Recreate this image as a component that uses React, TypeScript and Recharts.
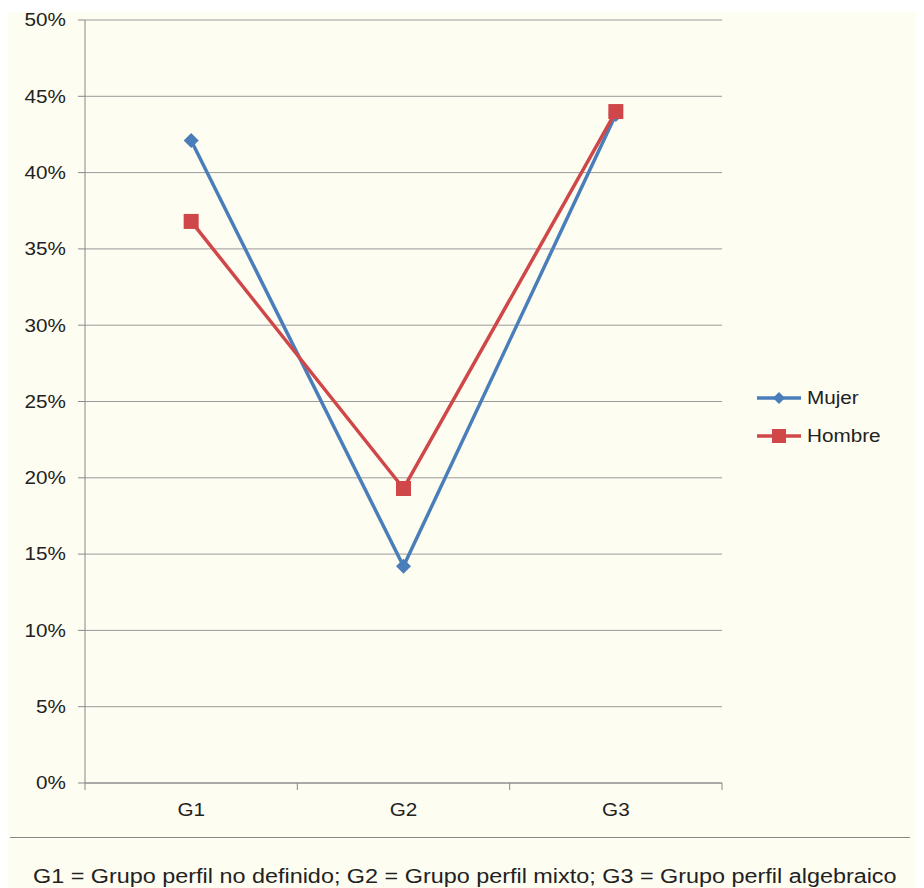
import React from 'react';
import { LineChart, Line, XAxis, YAxis, CartesianGrid, Legend } from 'recharts';

const categories = ['G1', 'G2', 'G3'];
const mujer = [42.1, 14.2, 43.8];
const hombre = [36.8, 19.3, 44.0];
const yTicks = [0, 5, 10, 15, 20, 25, 30, 35, 40, 45, 50];
const seriesNames = ['Mujer', 'Hombre'];
const footnote = 'G1 = Grupo perfil no definido; G2 = Grupo perfil mixto; G3 = Grupo perfil algebraico';

const data = categories.map((c, i) => ({ name: c, Mujer: mujer[i], Hombre: hombre[i] }));

const BLUE = '#4a7ebb';
const RED = '#d0474a';
const FONT = '"Liberation Sans", Arial, Helvetica, sans-serif';
const CREAM = '#fefdf1';
const STRETCH = 1.15; // the original text is a bit wider than Arial

const CHART_W = 916;
const CHART_H = 826;
const MARGIN = { top: 12, right: 202, left: 7, bottom: 11 };
const Y_W = 70;
const PLOT_W = CHART_W - MARGIN.left - MARGIN.right - Y_W;
const HALF_BAND = PLOT_W / categories.length / 2;

const Diamond = (props: any) => {
  const { cx, cy, fill } = props;
  if (cx == null || cy == null) return null;
  const r = 7.5;
  return <polygon points={`${cx},${cy - r} ${cx + r},${cy} ${cx},${cy + r} ${cx - r},${cy}`} fill={fill} />;
};

const Square = (props: any) => {
  const { cx, cy, fill } = props;
  if (cx == null || cy == null) return null;
  const s = 7.5;
  return <rect x={cx - s} y={cy - s} width={s * 2} height={s * 2} fill={fill} />;
};

const XTick = (props: any) => {
  const { x, y, payload, index } = props;
  const last = index === categories.length - 1;
  return (
    <g>
      <line x1={x - HALF_BAND} x2={x - HALF_BAND} y1={y} y2={y + 7} stroke="#888" />
      {last && <line x1={x + HALF_BAND} x2={x + HALF_BAND} y1={y} y2={y + 7} stroke="#888" />}
      <text
        transform={`translate(${x},${y + 33}) scale(${STRETCH},1)`}
        textAnchor="middle"
        fontSize={18}
        fill="#222"
        fontFamily={FONT}
      >
        {payload.value}
      </text>
    </g>
  );
};

const YTick = (props: any) => {
  const { x, y, payload } = props;
  return (
    <text
      transform={`translate(${x},${y}) scale(${STRETCH},1)`}
      dy="0.355em"
      textAnchor="end"
      fontSize={18}
      fill="#222"
      fontFamily={FONT}
    >
      {`${payload.value}%`}
    </text>
  );
};

const LegendContent = () => (
  <div style={{ fontFamily: FONT, fontSize: 18, color: '#222' }}>
    {seriesNames.map((name) => {
      const color = name === 'Mujer' ? BLUE : RED;
      return (
        <div key={name} style={{ display: 'flex', alignItems: 'center', height: 38 }}>
          <svg width={50} height={18}>
            <line x1={0} x2={44} y1={9} y2={9} stroke={color} strokeWidth={3.5} />
            {name === 'Mujer' ? (
              <polygon points="22,3 28,9 22,15 16,9" fill={color} />
            ) : (
              <rect x={15} y={2} width={14} height={14} fill={color} />
            )}
          </svg>
          <span style={{ display: 'inline-block', transform: `scaleX(${STRETCH})`, transformOrigin: 'left center' }}>
            {name}
          </span>
        </div>
      );
    })}
  </div>
);

export default function App() {
  return (
    <div style={{ paddingTop: 4 }}>
      <div style={{ background: CREAM, width: CHART_W, height: 876, position: 'relative' }}>
        <div style={{ position: 'absolute', left: 0, top: -4 }}>
          <LineChart width={CHART_W} height={CHART_H} data={data} margin={MARGIN}>
            <CartesianGrid vertical={false} stroke="#9a9a9a" />
            <XAxis
              dataKey="name"
              padding={{ left: HALF_BAND, right: HALF_BAND }}
              height={40}
              stroke="#888"
              tickLine={false}
              tickSize={0}
              tickMargin={0}
              tick={<XTick />}
              interval={0}
            />
            <YAxis
              width={Y_W}
              domain={[0, 50]}
              ticks={yTicks}
              stroke="#888"
              tickSize={7}
              tickMargin={12}
              tick={<YTick />}
              interval={0}
            />
            <Legend
              layout="horizontal"
              verticalAlign="middle"
              content={<LegendContent />}
              wrapperStyle={{ position: 'absolute', left: 749, top: 371, width: 160 }}
            />
            <Line
              dataKey="Mujer"
              stroke={BLUE}
              strokeWidth={3.5}
              fill={BLUE}
              dot={<Diamond fill={BLUE} />}
              activeDot={false}
              isAnimationActive={false}
            />
            <Line
              dataKey="Hombre"
              stroke={RED}
              strokeWidth={3.5}
              fill={RED}
              dot={<Square fill={RED} />}
              activeDot={false}
              isAnimationActive={false}
            />
          </LineChart>
        </div>
        <div style={{ position: 'absolute', left: 2, top: 825, width: 900, borderTop: '1px solid #888' }} />
        <div
          style={{
            position: 'absolute',
            left: 25,
            top: 853,
            fontFamily: FONT,
            fontSize: 20,
            color: '#222',
            whiteSpace: 'nowrap',
            transform: 'scaleX(1.169)',
            transformOrigin: 'left center',
          }}
        >
          {footnote}
        </div>
      </div>
    </div>
  );
}
